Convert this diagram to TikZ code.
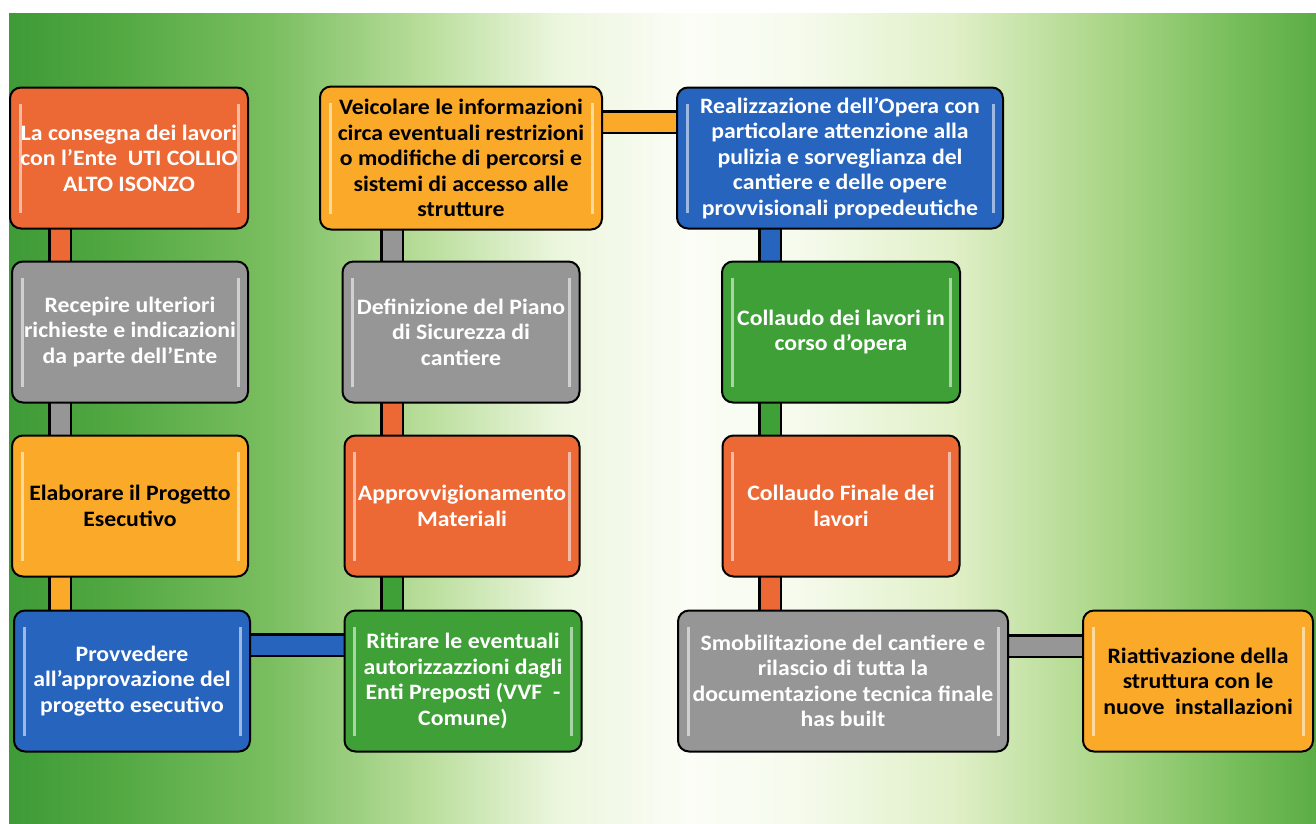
\documentclass[tikz,border=0pt]{standalone}
\usepackage{fontspec}
\setmainfont{Carlito}[FakeStretch=1.08]
\pgfdeclarelayer{sfondo}
\pgfdeclarelayer{barre}
\pgfsetlayers{sfondo,barre,main}
\definecolor{arancio}{RGB}{236,104,52}
\definecolor{grigio}{RGB}{150,150,150}
\definecolor{giallo}{RGB}{250,170,40}
\definecolor{blu}{RGB}{38,100,190}
\definecolor{verde}{RGB}{64,160,56}
\definecolor{prato0}{RGB}{62,155,55}
\definecolor{prato1}{RGB}{82,168,66}
\definecolor{prato2}{RGB}{122,190,96}
\definecolor{prato3}{RGB}{186,222,156}
\definecolor{prato4}{RGB}{236,246,222}
\definecolor{prato5}{RGB}{251,253,246}
\definecolor{prato6}{RGB}{246,251,238}
\definecolor{prato7}{RGB}{225,240,200}
\definecolor{prato8}{RGB}{170,214,135}
\definecolor{prato9}{RGB}{118,189,90}
\definecolor{prato10}{RGB}{92,173,70}
\pgfdeclarehorizontalshading{prato}{100bp}{color(0bp)=(prato0); color(25bp)=(prato0); color(29bp)=(prato1); color(35bp)=(prato2); color(41bp)=(prato3); color(46bp)=(prato4); color(51bp)=(prato5); color(55bp)=(prato6); color(61bp)=(prato7); color(67bp)=(prato8); color(72bp)=(prato9); color(75bp)=(prato10); color(100bp)=(prato10)}
\begin{document}
\begin{tikzpicture}[x=1pt,y=-1pt,
  fase/.style={rectangle, rounded corners=11pt, draw=black, line width=2pt, fill=#1,
    inner sep=0pt, minimum height=141pt, align=center, text=white,
    font=\fontsize{22}{25.5}\selectfont\bfseries,
    path picture={
      \draw[#1!45!white, line width=3pt] ([shift={(10pt,-16pt)}]path picture bounding box.north west) -- ([shift={(10pt,16pt)}]path picture bounding box.south west);
      \draw[#1!45!white, line width=3pt] ([shift={(-10pt,-16pt)}]path picture bounding box.north east) -- ([shift={(-10pt,16pt)}]path picture bounding box.south east);}},
  barra/.style={draw=black, line width=2.5pt, double=#1, double distance=19pt}]
\useasboundingbox (0,0) rectangle (1316,823);
\begin{pgfonlayer}{sfondo}
\fill[white] (0,0) rectangle (1316,823);
\shade[shading=prato] (9,13) rectangle (1316,823);
\end{pgfonlayer}
% prima colonna
\node[fase=arancio, minimum width=238pt] (a1) at (129,158) {La consegna dei lavori\\con l’Ente~ UTI COLLIO\\ALTO ISONZO};
\node[fase=grigio, minimum width=236pt] (a2) at (130,332) {Recepire ulteriori\\richieste e indicazioni\\da parte dell’Ente};
\node[fase=giallo, minimum width=236pt, text=black] (a3) at (130,506) {Elaborare il Progetto\\Esecutivo};
\node[fase=blu, minimum width=236pt] (a4) at (132,681) {Provvedere\\all'approvazione del\\progetto esecutivo};
% seconda colonna
\node[fase=giallo, minimum width=282pt, minimum height=143pt, text=black] (b1) at (461,158) {Veicolare le informazioni\\circa eventuali restrizioni\\o modifiche di percorsi e\\sistemi di accesso alle\\strutture};
\node[fase=grigio, minimum width=237pt] (b2) at (461,332) {Definizione del Piano\\di Sicurezza di\\cantiere};
\node[fase=arancio, minimum width=235pt] (b3) at (462,506) {Approvvigionamento\\Materiali};
\node[fase=verde, minimum width=237pt] (b4) at (463,681) {Ritirare le eventuali\\autorizzazzioni dagli\\Enti Preposti (VVF~ -\\Comune)};
% terza colonna
\node[fase=blu, minimum width=326pt] (c1) at (840,158) {Realizzazione dell'Opera con\\particolare attenzione alla\\pulizia e sorveglianza del\\cantiere e delle opere\\provvisionali propedeutiche};
\node[fase=verde, minimum width=238pt] (c2) at (841,332) {Collaudo dei lavori in\\corso d'opera};
\node[fase=arancio, minimum width=237pt] (c3) at (841,506) {Collaudo Finale dei\\lavori};
\node[fase=grigio, minimum width=330pt] (c4) at (843,681) {Smobilitazione del cantiere e\\rilascio di tutta la\\documentazione tecnica finale\\has built};
\node[fase=giallo, minimum width=230pt, text=black] (d4) at (1198,681) {Riattivazione della\\struttura con le\\nuove~ installazioni};
% barre di collegamento
\begin{pgfonlayer}{barre}
\draw[barra=arancio] ([xshift=-69pt]a1.center) -- ([xshift=-69pt]a1.center |- a2.center);
\draw[barra=grigio] ([xshift=-70pt]a2.center) -- ([xshift=-70pt]a2.center |- a3.center);
\draw[barra=giallo] ([xshift=-70pt]a3.center) -- ([xshift=-70pt]a3.center |- a4.center);
\draw[barra=blu] ([yshift=36pt]a4.center) -- ([yshift=36pt]a4.center -| b4.center);
\draw[barra=verde] ([xshift=-71pt]b4.center) -- ([xshift=-71pt]b4.center |- b3.center);
\draw[barra=arancio] ([xshift=-70pt]b3.center) -- ([xshift=-70pt]b3.center |- b2.center);
\draw[barra=grigio] ([xshift=-69pt]b2.center) -- ([xshift=-69pt]b2.center |- b1.center);
\draw[barra=giallo] ([yshift=36pt]b1.center) -- ([yshift=36pt]b1.center -| c1.center);
\draw[barra=blu] ([xshift=-70pt]c1.center) -- ([xshift=-70pt]c1.center |- c2.center);
\draw[barra=verde] ([xshift=-71pt]c2.center) -- ([xshift=-71pt]c2.center |- c3.center);
\draw[barra=arancio] ([xshift=-71pt]c3.center) -- ([xshift=-71pt]c3.center |- c4.center);
\draw[barra=grigio] ([yshift=35pt]c4.center) -- ([yshift=35pt]c4.center -| d4.center);
\end{pgfonlayer}
\end{tikzpicture}
\end{document}
